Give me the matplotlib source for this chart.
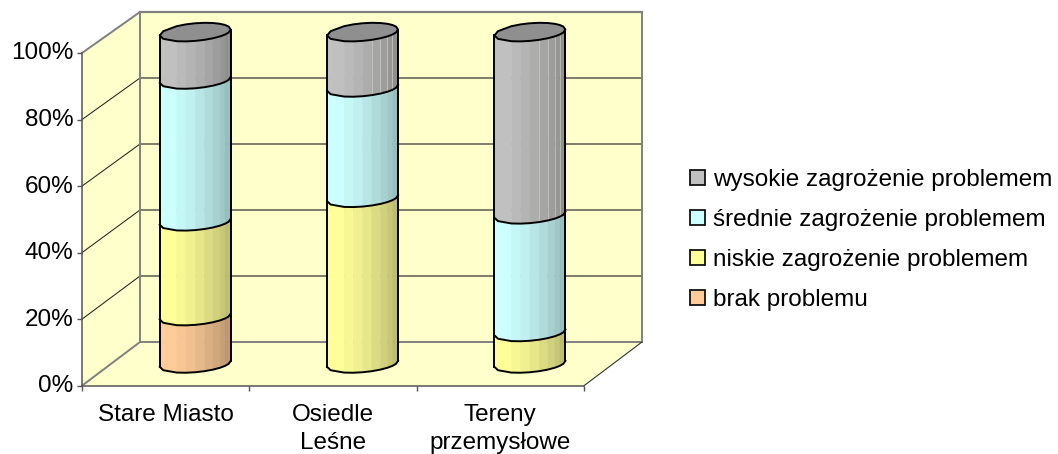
import numpy as np
import matplotlib
matplotlib.use("Agg")
import matplotlib.pyplot as plt
from matplotlib.patches import Patch, Polygon
from matplotlib.transforms import ScaledTranslation

plt.rcParams['font.family'] = ['Liberation Sans', 'DejaVu Sans']

categories = ["Stare Miasto", "Osiedle\nLeśne", "Tereny\nprzemysłowe"]
series_names = ["brak problemu", "niskie zagrożenie problemem",
                "średnie zagrożenie problemem", "wysokie zagrożenie problemem"]
brak = [14.3, 0.0, 0.0]
niskie = [28.6, 50.0, 9.5]
srednie = [42.8, 33.3, 35.5]
wysokie = [14.3, 16.7, 55.0]
y_ticks = [0, 20, 40, 60, 80, 100]
colors = ["#FFCC99", "#FFFF99", "#CCFFFF", "#C0C0C0"]

W, H = 1058, 454
L_px, R_px, T_px, B_px = 82.0, 584.0, 53.0, 385.7
PX_X = 3.0 / (R_px - L_px)
PX_Y = 100.0 / (B_px - T_px)
DEPTH_X, DEPTH_Y0, DEPTH_Y1 = 58.0, 43.7, 41.0
WALL = "#FFFFCC"
EDGE = "#808080"
GRID = "#666658"
FS = 17.5

fig = plt.figure(figsize=(W / 100, H / 100), dpi=100)
fig.patch.set_facecolor("white")
ax = fig.add_axes([L_px / W, 1 - B_px / H, (R_px - L_px) / W, (B_px - T_px) / H])
ax.set_xlim(0, 3)
ax.set_ylim(0, 100)
ax.patch.set_visible(False)


def proj(x, v, d):
    """Category position x, value v, depth d (0 front, 1 back) -> axes data."""
    shift = d * (DEPTH_Y0 + (DEPTH_Y1 - DEPTH_Y0) * np.asarray(v, dtype=float) / 100)
    return np.asarray(x, dtype=float) + d * DEPTH_X * PX_X, np.asarray(v, dtype=float) + shift * PX_Y


def poly(pts, **kw):
    ax.add_patch(Polygon(pts, closed=True, clip_on=False, **kw))


def P(x, v, d):
    a, b = proj(x, v, d)
    return (float(a), float(b))


# walls and floor
poly([P(0, 0, 0), P(0, 0, 1), P(0, 100, 1), P(0, 100, 0)], fc=WALL, ec="none", zorder=1)
poly([P(0, 0, 1), P(3, 0, 1), P(3, 100, 1), P(0, 100, 1)], fc=WALL, ec="none", zorder=1)
poly([P(0, 0, 0), P(3, 0, 0), P(3, 0, 1), P(0, 0, 1)], fc=WALL, ec="none", zorder=1)

for v in y_ticks[1:-1]:
    a, b = zip(P(0, v, 0), P(0, v, 1))
    ax.plot(a, b, color="#222222", lw=0.75, clip_on=False, zorder=2)
    a, b = zip(P(0, v, 1), P(3, v, 1))
    ax.plot(a, b, color=GRID, lw=1.2, clip_on=False, zorder=2)

for p, q, lw in [(P(0, 0, 0), P(0, 0, 1), 1.4), (P(0, 100, 0), P(0, 100, 1), 1.4),
                 (P(0, 0, 1), P(0, 100, 1), 1.4), (P(0, 100, 1), P(3, 100, 1), 1.6),
                 (P(3, 100, 1), P(3, 0, 1), 1.4), (P(0, 0, 1), P(3, 0, 1), 1.4)]:
    ax.plot([p[0], q[0]], [p[1], q[1]], color=EDGE, lw=lw, clip_on=False, zorder=2,
            solid_capstyle="projecting")
p, q = P(3, 0, 0), P(3, 0, 1)
ax.plot([p[0], q[0]], [p[1], q[1]], color="#333333", lw=0.8, clip_on=False, zorder=2)

# cylinders
band_f = np.array([0, .05, .24, .37, .50, .63, .75, .85, .92, .97, 1.0])
shade = np.array([1.0, 1.0, .97, .94, .90, .86, .82, .78, .74, .74])
seam_f = (.63, .75, .85, .92)
HALF_W = 35.5
SKEW, MINOR = 3.0, 8.4


def ring(cx, v, front=True):
    c = 2 * band_f - 1
    s = np.sqrt(np.clip(1 - c ** 2, 0, None))
    xs = cx + c * HALF_W * PX_X
    ys = v + (SKEW * c + (-MINOR if front else MINOR * 1.1) * s) * PX_Y
    return xs, ys


stacked = np.array([brak, niskie, srednie, wysokie])
for i in range(len(categories)):
    cx = float(proj(i + 0.5, 0, 0.51)[0])
    base = 0.0
    for j, color in enumerate(colors):
        val = stacked[j, i]
        if val <= 0:
            continue
        v0 = float(proj(0, base, 0.5)[1])
        v1 = float(proj(0, base + val, 0.5)[1])
        x0, y0 = ring(cx, v0)
        x1, y1 = ring(cx, v1)
        rgb = np.array(matplotlib.colors.to_rgb(color))
        for k in range(len(shade)):
            pts = [(x0[k], y0[k]), (x0[k + 1], y0[k + 1]), (x1[k + 1], y1[k + 1]), (x1[k], y1[k])]
            poly(pts, fc=tuple(rgb * shade[k]), ec=tuple(rgb * shade[k]), lw=0.3, zorder=3)
            if j == 3 and i > 0 and band_f[k] in seam_f:
                ax.plot([x0[k], x1[k]], [y0[k], y1[k]], color="#D4D4B8", lw=0.45,
                        clip_on=False, zorder=3.5)
        ax.plot(x0, y0, color="black", lw=1.4, clip_on=False, zorder=5, solid_joinstyle="round")
        base += val
    v_bot = float(proj(0, 0, 0.5)[1])
    v_top = float(proj(0, 100, 0.5)[1])
    xf, yf = ring(cx, v_top, True)
    xb, yb = ring(cx, v_top, False)
    xo, yo = ring(cx, v_bot, True)
    top_pts = list(zip(xf, yf)) + list(zip(xb[::-1], yb[::-1]))
    poly(top_pts, fc="#8F8F8F", ec="black", lw=1.4, zorder=5, joinstyle="round")
    ax.plot([xo[0], xf[0]], [yo[0], yf[0]], color="black", lw=1.4, clip_on=False, zorder=5)
    ax.plot([xo[-1], xf[-1]], [yo[-1], yf[-1]], color="black", lw=1.4, clip_on=False, zorder=5)

# axes
for side in ("top", "right"):
    ax.spines[side].set_visible(False)
for side in ("left", "bottom"):
    ax.spines[side].set_color("#555555")
    ax.spines[side].set_linewidth(1.1)
    ax.spines[side].set_zorder(6)
ax.set_yticks(y_ticks)
ax.set_yticklabels([f"{v}%" for v in y_ticks], fontsize=FS)
ax.tick_params(axis="y", length=3.6, width=1.0, color="#555555", pad=2.5)
up = ScaledTranslation(0, 2 / 100, fig.dpi_scale_trans)
for t in ax.get_yticklabels():
    t.set_transform(t.get_transform() + up)
ax.set_xticks([0, 1, 2, 3])
ax.set_xticklabels([])
ax.tick_params(axis="x", which="major", length=3.8, width=1.0, color="#555555")
ax.set_xticks([0.5, 1.5, 2.5], minor=True)
ax.set_xticklabels(categories, minor=True, fontsize=FS, linespacing=1.34)
ax.tick_params(axis="x", which="minor", length=0, pad=13)

handles = [Patch(fc=c, ec="#111111", lw=1.3) for c in colors[::-1]]
leg = fig.legend(handles, series_names[::-1], loc="center left",
                 bbox_to_anchor=(690 / W, 1 - 240 / H), frameon=False, fontsize=FS,
                 handlelength=0.62, handleheight=0.62, handletextpad=0.33,
                 labelspacing=0.74, borderpad=0, borderaxespad=0)

fig.savefig("out.png", dpi=100)
